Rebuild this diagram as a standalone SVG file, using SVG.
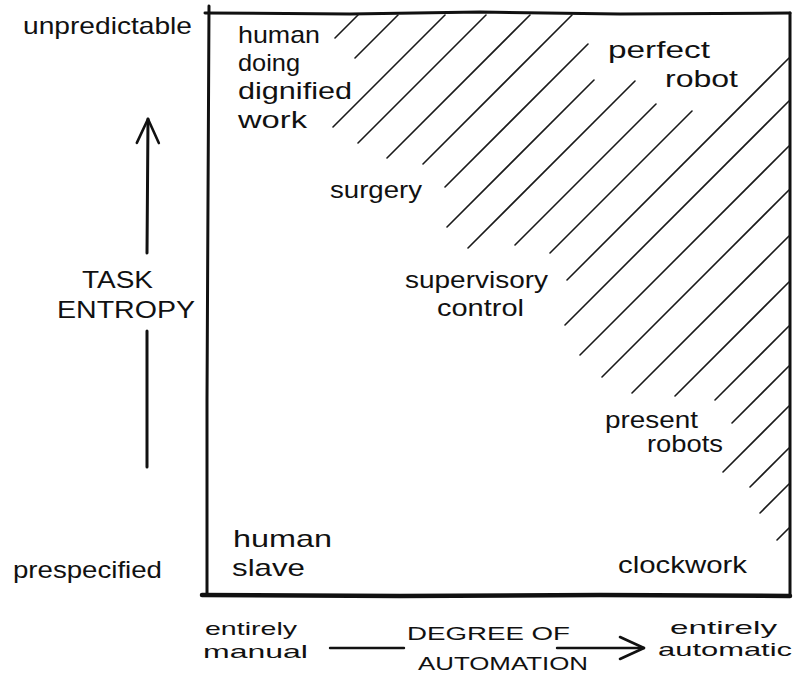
<svg xmlns="http://www.w3.org/2000/svg" width="793" height="675" viewBox="0 0 793 675">
<style>
.t{font-family:"Liberation Sans",Arial,sans-serif;fill:#111;font-size:24px}
.s{font-size:19px}
.c{font-size:19px}
.h{stroke:#1a1a1a;stroke-width:1.6;fill:none;stroke-linecap:round}
.b{stroke:#111;stroke-width:3;fill:none;stroke-linecap:round}
.a{stroke:#111;stroke-width:3;fill:none;stroke-linecap:round}
</style>
<defs>
<marker id="arr" markerUnits="userSpaceOnUse" viewBox="-26 -14 30 28" markerWidth="30" markerHeight="28" refX="0" refY="0" orient="auto">
<path d="M-24,-11 L0,0 L-24,11" fill="none" stroke="#111" stroke-width="2.6" stroke-linecap="round" stroke-linejoin="round"/>
</marker>
</defs>
<rect width="793" height="675" fill="#fff"/>
<g id="frame">
<path class="b" d="M205,13 L350,14 L480,12 L620,14 L790,13"/>
<path class="b" d="M209,6 L208,200 L207,400 L207,595"/>
<path class="b" d="M790,13 L790,595"/>
<path class="b" style="stroke-width:4.5" d="M202,595 L400,596 L600,595 L790,596"/>
</g>
<g id="hatch">
<path class="h" d="M335,38 L358,15 M355,58 L398,15 M333,127 L445,15 M358,143 L486,15 M387,158 L530,15 M423,164 L572,15 M445,187 L588,44 M447,227 L594,80 M468,248 L635,81 M515,245 L656,104 M550,253 L692,111 M567,280 L789,58 M565,325 L789,101 M580,355 L789,146 M602,377 L789,190 M632,393 L789,236 M675,396 L789,282 M715,400 L789,326 M732,423 L789,366 M723,472 L789,406 M750,487 L789,448 M760,513 L789,484 M777,540 L789,528"/>
</g>
<g id="connectors">
<line class="a" x1="147" y1="253" x2="148" y2="119" marker-end="url(#arr)"/>
<line class="a" x1="147" y1="331" x2="147" y2="467"/>
<line class="a" x1="330" y1="648" x2="404" y2="648" style="stroke-width:2.4"/>
<line class="a" x1="557" y1="648" x2="644" y2="648" style="stroke-width:2.4" marker-end="url(#arr)"/>
</g>
<g id="axis-y">
<text class="t" x="23" y="34" textLength="169" lengthAdjust="spacingAndGlyphs">unpredictable</text>
<text class="t" x="13" y="578" textLength="149" lengthAdjust="spacingAndGlyphs">prespecified</text>
<text class="t" x="82" y="288" textLength="71" lengthAdjust="spacingAndGlyphs">TASK</text>
<text class="t" x="57" y="318" textLength="138" lengthAdjust="spacingAndGlyphs">ENTROPY</text>
</g>
<g id="axis-x">
<text class="t s" x="205" y="635" textLength="92" lengthAdjust="spacingAndGlyphs">entirely</text>
<text class="t s" x="203" y="658" textLength="105" lengthAdjust="spacingAndGlyphs">manual</text>
<text class="t s" x="407" y="640" textLength="163" lengthAdjust="spacingAndGlyphs">DEGREE OF</text>
<text class="t c" x="418" y="670" textLength="170" lengthAdjust="spacingAndGlyphs">AUTOMATION</text>
<text class="t s" x="670" y="634" textLength="107" lengthAdjust="spacingAndGlyphs">entirely</text>
<text class="t s" x="658" y="656" textLength="134" lengthAdjust="spacingAndGlyphs">automatic</text>
</g>
<g id="human-dignified">
<text class="t" x="238" y="43" textLength="82" lengthAdjust="spacingAndGlyphs">human</text>
<text class="t" x="238" y="71" textLength="62" lengthAdjust="spacingAndGlyphs">doing</text>
<text class="t" x="238" y="99" textLength="114" lengthAdjust="spacingAndGlyphs">dignified</text>
<text class="t" x="238" y="128" textLength="69" lengthAdjust="spacingAndGlyphs">work</text>
</g>
<g id="perfect-robot">
<text class="t" x="608" y="58" textLength="102" lengthAdjust="spacingAndGlyphs">perfect</text>
<text class="t" x="665" y="87" textLength="73" lengthAdjust="spacingAndGlyphs">robot</text>
</g>
<g id="surgery">
<text class="t" x="330" y="198" textLength="92" lengthAdjust="spacingAndGlyphs">surgery</text>
</g>
<g id="supervisory-control">
<text class="t" x="405" y="288" textLength="143" lengthAdjust="spacingAndGlyphs">supervisory</text>
<text class="t" x="437" y="316" textLength="87" lengthAdjust="spacingAndGlyphs">control</text>
</g>
<g id="present-robots">
<text class="t" x="605" y="428" textLength="93" lengthAdjust="spacingAndGlyphs">present</text>
<text class="t" x="647" y="452" textLength="76" lengthAdjust="spacingAndGlyphs">robots</text>
</g>
<g id="clockwork">
<text class="t" x="618" y="573" textLength="129" lengthAdjust="spacingAndGlyphs">clockwork</text>
</g>
<g id="human-slave">
<text class="t" x="233" y="547" textLength="99" lengthAdjust="spacingAndGlyphs">human</text>
<text class="t" x="232" y="576" textLength="73" lengthAdjust="spacingAndGlyphs">slave</text>
</g>
</svg>
